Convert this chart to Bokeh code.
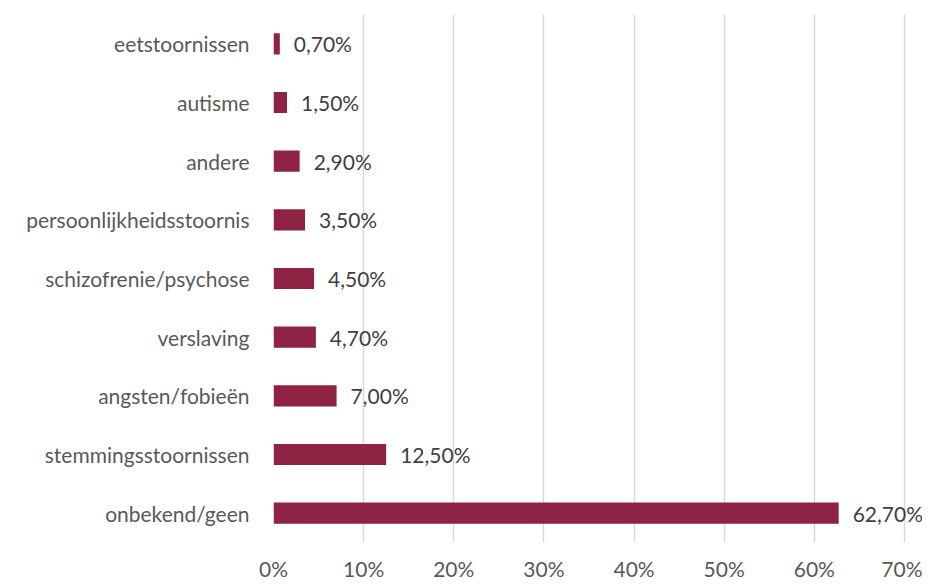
from bokeh.plotting import figure
from bokeh.models import ColumnDataSource, FactorRange, Range1d, FixedTicker
from bokeh.core.properties import value
from bokeh.embed import file_html
from bokeh.resources import INLINE

categories = ["eetstoornissen", "autisme", "andere", "persoonlijkheidsstoornis",
              "schizofrenie/psychose", "verslaving", "angsten/fobieën",
              "stemmingsstoornissen", "onbekend/geen"]
percentages = [0.7, 1.5, 2.9, 3.5, 4.5, 4.7, 7.0, 12.5, 62.7]
tick_values = [0, 10, 20, 30, 40, 50, 60, 70]
tick_labels = ["0%", "10%", "20%", "30%", "40%", "50%", "60%", "70%"]

labels = [f"{v:.2f}".replace(".", ",") + "%" for v in percentages]
source = ColumnDataSource(dict(cat=categories, val=percentages, lab=labels))

FONT = "Lato"
GREY = "#595959"
FS = "21px"

p = figure(width=922, height=584, output_backend="svg", toolbar_location=None,
           y_range=FactorRange(*list(reversed(categories))),
           x_range=Range1d(0, 72.0),
           min_border_left=273, min_border_right=0, min_border_top=14, min_border_bottom=42)

p.hbar(y="cat", right="val", left=0, height=0.36, source=source,
       fill_color="#8E2344", line_color=None)

p.text(x="val", y="cat", text="lab", source=source, x_offset=14,
       text_baseline="middle", text_align="left", text_font=value(FONT),
       text_font_size=FS, text_color="#404040")

p.outline_line_color = None
p.background_fill_color = "white"
p.border_fill_color = "white"

p.xaxis.ticker = FixedTicker(ticks=tick_values)
p.xaxis.major_label_overrides = {t: l for t, l in zip(tick_values, tick_labels)}
p.xaxis.axis_line_color = None
p.xaxis.major_tick_line_color = None
p.xaxis.minor_tick_line_color = None
p.xaxis.major_label_standoff = 7
p.xaxis.major_label_text_font = FONT
p.xaxis.major_label_text_font_size = FS
p.xaxis.major_label_text_color = GREY

p.yaxis.axis_line_color = None
p.yaxis.major_tick_line_color = None
p.yaxis.major_label_standoff = 18
p.yaxis.major_label_text_font = FONT
p.yaxis.major_label_text_font_size = FS
p.yaxis.major_label_text_color = GREY

p.xgrid.grid_line_color = "#d9d9d9"
p.xgrid.grid_line_width = 1.5
p.ygrid.grid_line_color = None

open("out.html", "w").write(file_html(p, INLINE))
